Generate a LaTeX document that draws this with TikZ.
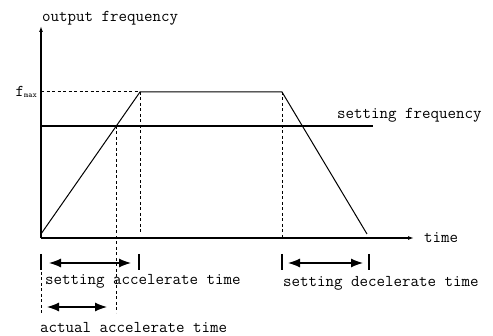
\documentclass[tikz,border=0pt]{standalone}
\usepackage{tikz}
\usetikzlibrary{arrows.meta}
\tikzset{
  axis/.style={line width=1.3pt, -{Latex[length=6pt,width=4pt]}},
  curve/.style={line width=1pt},
  guide/.style={line width=1pt, dash pattern=on 3pt off 2.5pt},
  span/.style={line width=1.2pt, {Latex[length=12pt,width=9pt]}-{Latex[length=12pt,width=9pt]}},
  tickmark/.style={line width=1.2pt},
  lbl/.style={font=\fontsize{16.5}{18}\selectfont\ttfamily, inner sep=0pt}
}
\begin{document}
\begin{tikzpicture}[x=1pt,y=-1pt]
                \useasboundingbox (0,0) rectangle (493,336);

                \coordinate (O)        at (41,238);
                \coordinate (ytop)     at (41,26);
                \coordinate (xend)     at (414,238);
                \coordinate (rampbeg)  at (41,234);
                \coordinate (fmaxL)    at (41,92);
                \coordinate (accend)   at (140,92);
                \coordinate (decbeg)   at (282,92);
                \coordinate (decend)   at (367,234);
                \coordinate (setL)     at (41,126);
                \coordinate (setR)     at (373,126);
                \coordinate (cross)    at (116,126);

                \draw[axis] (O) -- (ytop);
                \draw[axis] (O) -- (xend);
                \draw[curve] (rampbeg) -- (accend) -- (decbeg) -- (decend);
                \draw[line width=1.4pt] (setL) -- (setR);

                \draw[guide] (fmaxL) -- (accend);
                \draw[guide] (accend) -- (140,232);
                \draw[guide] (decbeg) -- (282,238);
                \draw[guide] (cross) -- (116,313);
                \draw[guide] (41,272) -- (41,313);

                \draw[tickmark] (41,254) -- (41,270);
                \draw[tickmark] (139,254) -- (139,270);
                \draw[tickmark] (282,254) -- (282,270);
                \draw[tickmark] (369,254) -- (369,270);

                \coordinate (sa1) at (49,263);
                \coordinate (sa2) at (131,263);
                \coordinate (aa1) at (47,307);
                \coordinate (aa2) at (107,307);
                \coordinate (sd1) at (288,263);
                \coordinate (sd2) at (363,263);

                \draw[span] (sa1) -- (sa2);
                \draw[span] (aa1) -- (aa2);
                \draw[span] (sd1) -- (sd2);

                \node[lbl, anchor=west] (ylab)  at (42,18)   {output frequency};
                \node[lbl, anchor=west] (xlab)  at (424,238) {time};
                \node[lbl, anchor=west] (setf)  at (337,115) {setting frequency};
                \node[lbl, anchor=east] (fmax)  at (37,92)   {f\raisebox{-1pt}{\fontsize{8}{8}\selectfont max}};
                \node[lbl, anchor=west] (sacc)  at (45,281)  {setting accelerate time};
                \node[lbl, anchor=west] (aacc)  at (40,328)  {actual accelerate time};
                \node[lbl, anchor=west] (sdec)  at (283,283) {setting decelerate time};
            \end{tikzpicture}
\end{document}
